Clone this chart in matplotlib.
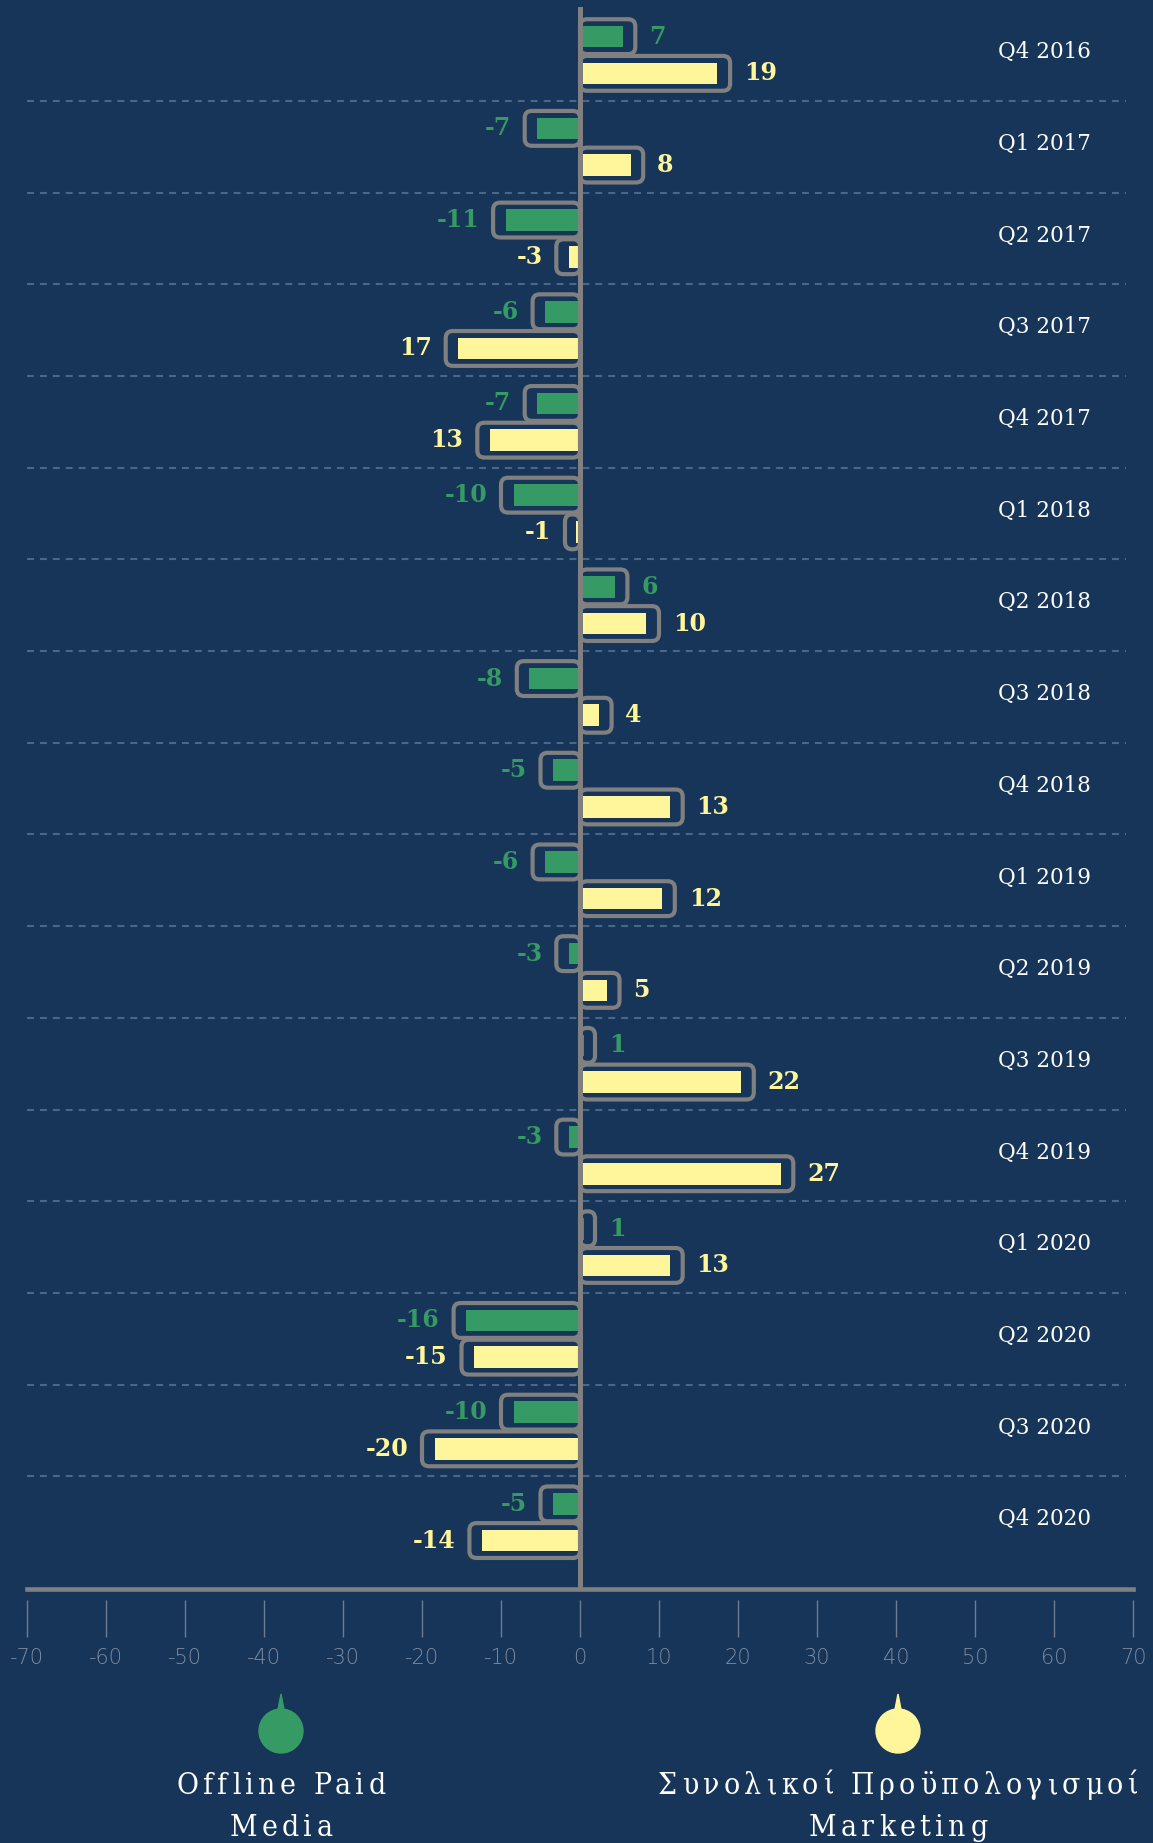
import numpy as np
import matplotlib.pyplot as plt
from matplotlib.patches import FancyBboxPatch, Circle, Polygon
from matplotlib.font_manager import FontProperties

plt.rcParams['lines.scale_dashes'] = False

# data
quarters = ['Q4 2016', 'Q1 2017', 'Q2 2017', 'Q3 2017', 'Q4 2017', 'Q1 2018',
            'Q2 2018', 'Q3 2018', 'Q4 2018', 'Q1 2019', 'Q2 2019', 'Q3 2019',
            'Q4 2019', 'Q1 2020', 'Q2 2020', 'Q3 2020', 'Q4 2020']
offline = [7, -7, -11, -6, -7, -10, 6, -8, -5, -6, -3, 1, -3, 1, -16, -10, -5]
budget = [19, 8, -3, -17, -13, -1, 10, 4, 13, 12, 5, 22, 27, 13, -15, -20, -14]
# labels as printed on the chart (two of them lose their minus sign)
budget_text = ['19', '8', '-3', '17', '13', '-1', '10', '4', '13', '12', '5',
               '22', '27', '13', '-15', '-20', '-14']
series_names = ['Offline Paid\nMedia', 'Συνολικοί Προϋπολογισμοί\nMarketing']
xticks = list(range(-70, 71, 10))

bg = '#163558'
green = '#369A64'
yellow = '#FFF59A'
edge = '#808080'

W, H = 1153, 1843
fig = plt.figure(figsize=(W / 100, H / 100), dpi=100, facecolor=bg)

top_px, bot_px = 7, 1589
ax = fig.add_axes([27 / W, (H - bot_px) / H, 1106 / W, (bot_px - top_px) / H])
ax.set_facecolor(bg)
ax.set_xlim(-70, 70)
row_px = 91.7
y0 = (top_px - 55) / row_px
y1 = (bot_px - 55) / row_px
ax.set_ylim(y1, y0)

for s in ['top', 'right', 'left']:
    ax.spines[s].set_visible(False)
ax.spines['bottom'].set_position(('outward', 8))
ax.spines['bottom'].set_visible(False)
ax.set_yticks([])
ax.set_xticks(xticks)
ax.set_xticklabels([str(t) for t in xticks])
ax.tick_params(axis='x', length=26.5, width=1, color='#6d7c90', pad=8,
               labelsize=15, labelcolor='#7f8ba0')
for lab in ax.get_xticklabels():
    lab.set_fontweight(200)
    lab.set_family('DejaVu Sans')

# row separators
for i in range(len(quarters) - 1):
    ax.plot([0, 0.994], [i + 0.5, i + 0.5], transform=ax.get_yaxis_transform(),
            color='#4B6787', lw=1.5, ls=(0, (5, 4.3)), zorder=1)

box_h = 0.38
fill_h = 0.235
off = 0.2
aspect = (1 / row_px) / (140 / 1106)


def draw_bar(v, y, color, text):
    sgn = 1 if v > 0 else -1
    blen = sgn * max(abs(v), 1.9)
    box = FancyBboxPatch((min(0, blen), y - box_h / 2), abs(blen), box_h,
                         boxstyle='round,pad=0,rounding_size=0.9',
                         mutation_aspect=aspect, fc='none', ec=edge, lw=3,
                         zorder=3)
    ax.add_patch(box)
    flen = sgn * max(abs(v) - 1.6, 0.5)
    ax.barh(y, flen, height=fill_h, color=color, zorder=2)
    ax.annotate(text, (blen, y), xytext=(10 * sgn, 0), textcoords='offset points',
                ha='left' if sgn > 0 else 'right', va='center',
                color=color, fontsize=17, fontweight='bold',
                family='DejaVu Serif', zorder=4)


for i, q in enumerate(quarters):
    draw_bar(offline[i], i - off, green, str(offline[i]))
    draw_bar(budget[i], i + off, yellow, budget_text[i])
    ax.text(0.878, i - 0.03, q, transform=ax.get_yaxis_transform(),
            ha='left', va='center', color='white', fontsize=15.5,
            family='DejaVu Serif')

ax.axvline(0, color=edge, lw=3.6, zorder=5)
ax.axhline(y1, color=edge, lw=3.3, zorder=5, clip_on=False)

# legend drawn in pixel space
lax = fig.add_axes([0, 0, 1, 1], facecolor='none')
lax.set_xlim(0, W)
lax.set_ylim(H, 0)
lax.axis('off')

fp = FontProperties(family='DejaVu Serif', size=21.5, stretch='condensed')
renderer = fig.canvas.get_renderer()


def tw(s):
    return renderer.get_text_width_height_descent(s, fp, ismath=False)[0]


def spaced_text(cx, cy, s, spacing):
    n = len(s)
    total = tw(s) + (n - 1) * spacing
    left = cx - total / 2
    for i, ch in enumerate(s):
        if ch == ' ':
            continue
        x = tw(s[:i + 1]) - tw(ch) + i * spacing
        lax.text(left + x, cy, ch, fontproperties=fp, color='white',
                 ha='left', va='center')


for cx, color, name in zip([281, 898], [green, yellow], series_names):
    lax.add_patch(Circle((cx, 1731), 22, color=color))
    lax.add_patch(Polygon([(cx - 3.5, 1712), (cx, 1694), (cx + 3.5, 1712)],
                          closed=True, color=color))
    for k, line in enumerate(name.split('\n')):
        spaced_text(cx, 1786 + 42 * k, line, 4.5)

fig.savefig('out.png', dpi=100, facecolor=bg)
